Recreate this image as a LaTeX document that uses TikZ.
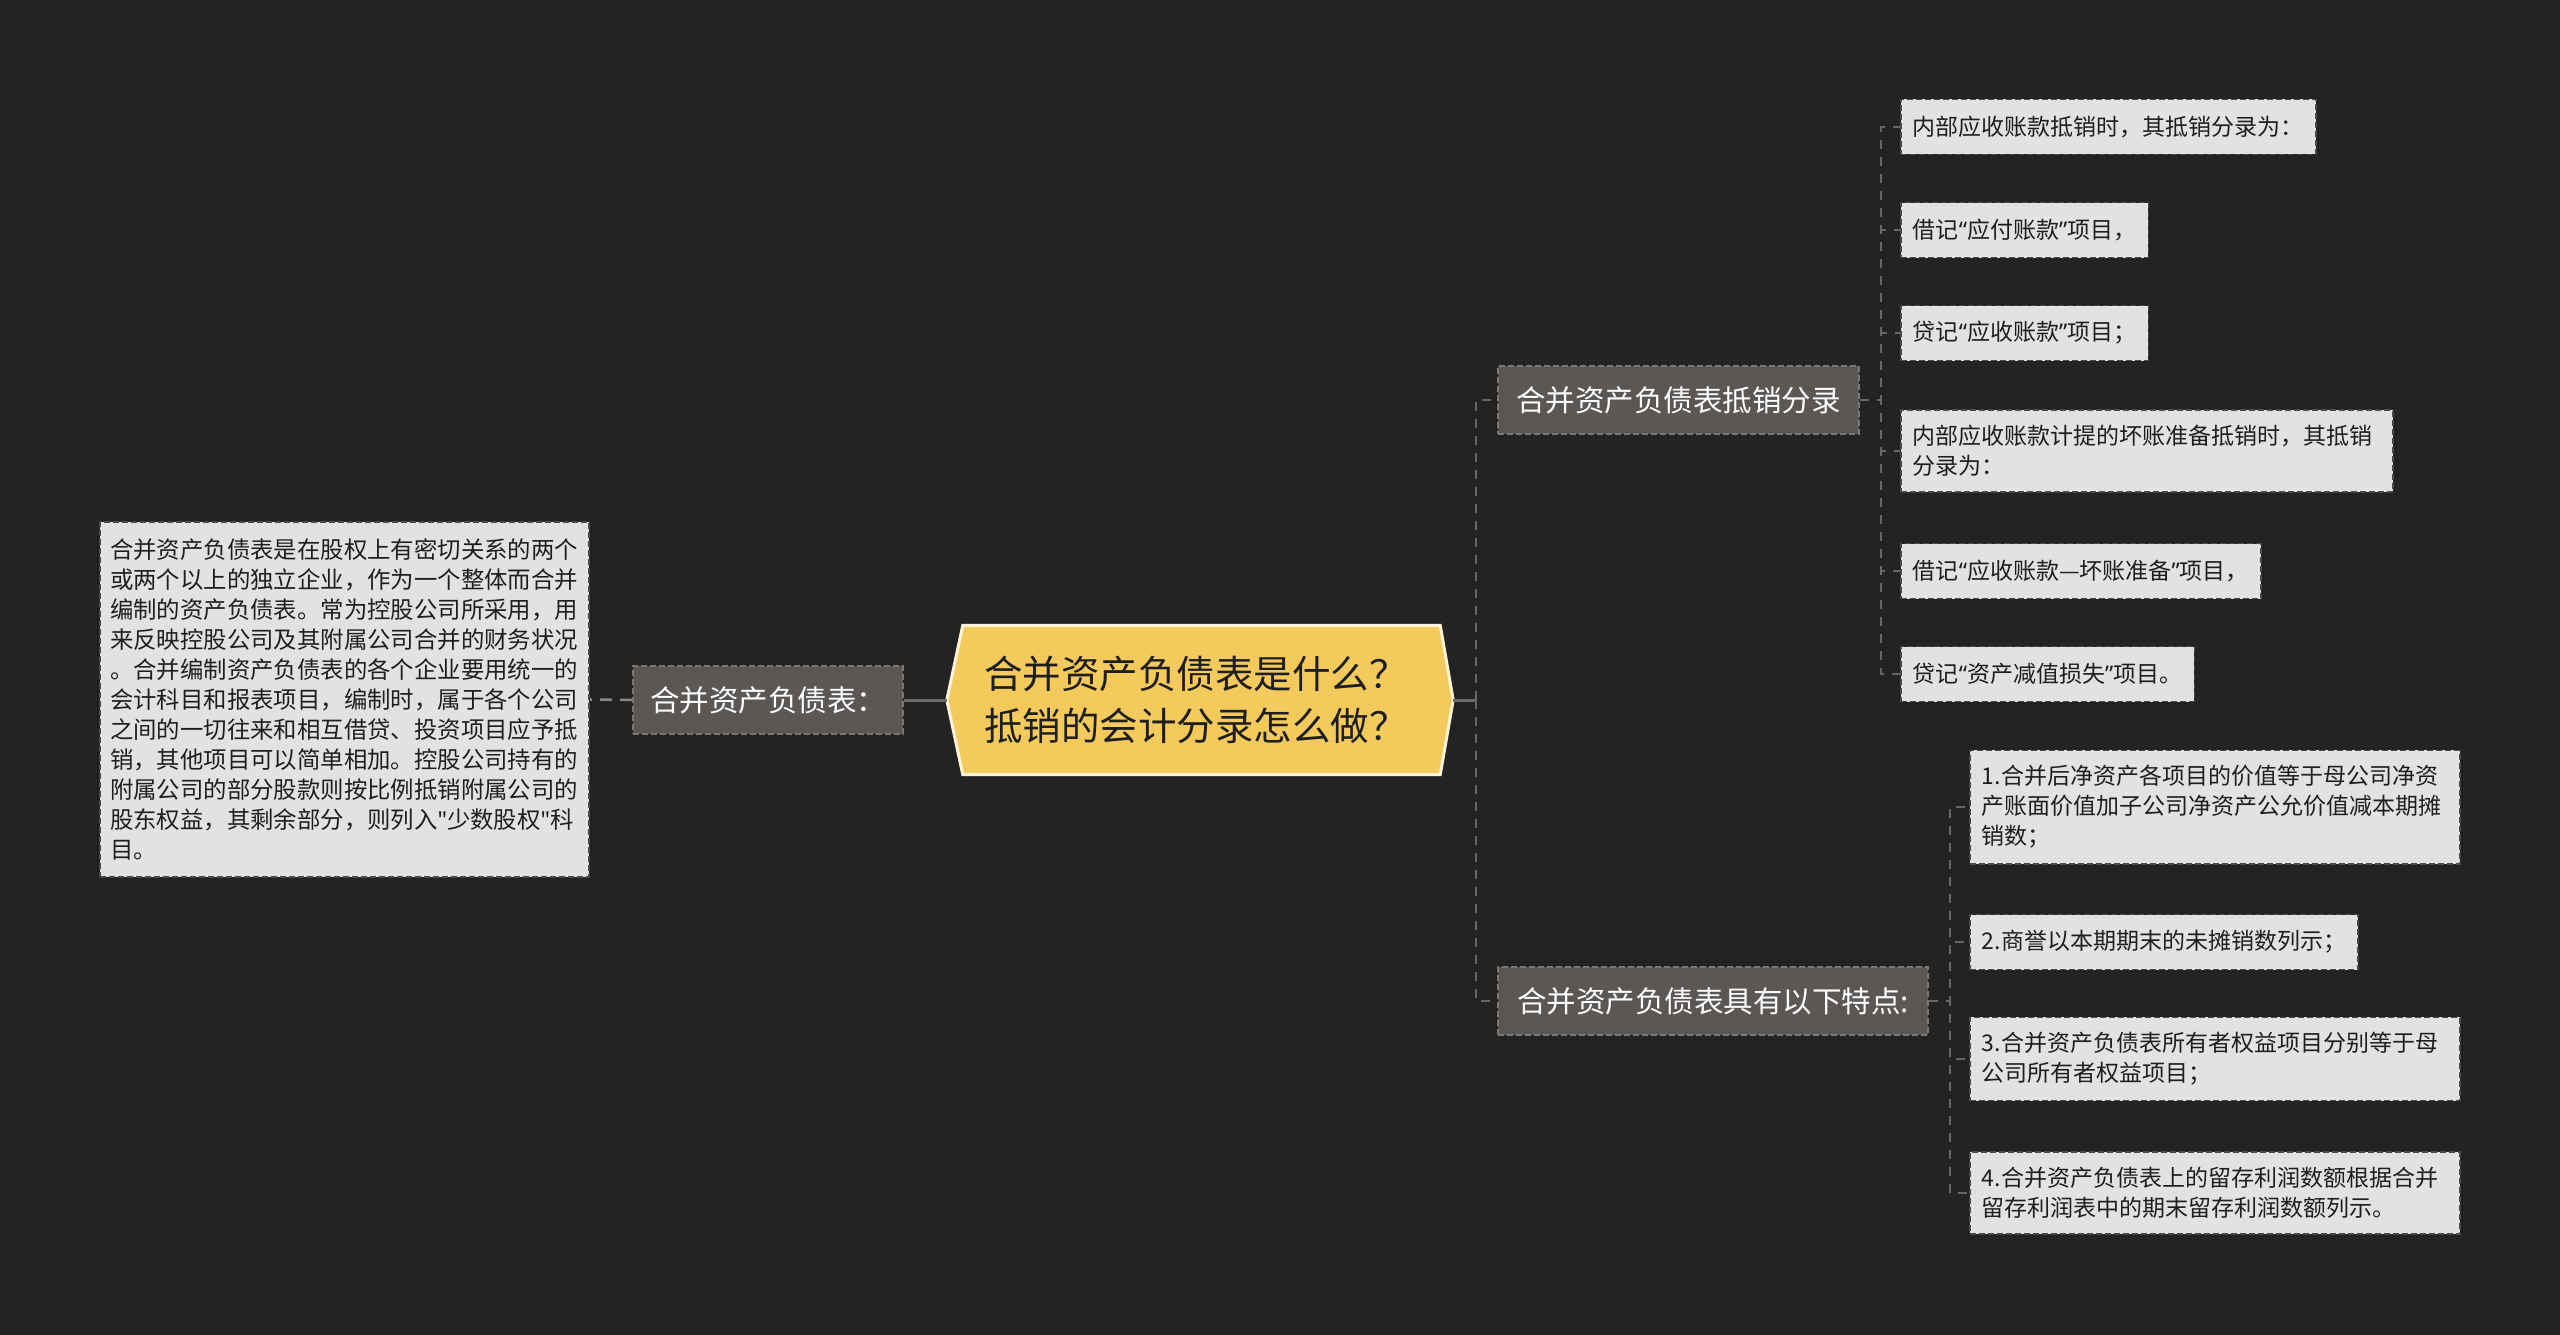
\documentclass[tikz,border=0pt]{standalone}
\usepackage{fontspec}
\setmainfont{Noto Sans CJK SC}
\newfontfamily\latinq{Noto Sans}
\newfontfamily\rawq{Noto Sans}[Ligatures=TeXOff]
\newcommand{\myoq}{{\latinq “}}
\newcommand{\mycq}{{\latinq ”}}
\newcommand{\mystq}{{\rawq\char"22}}
\definecolor{bg}{HTML}{232323}
\definecolor{leaffill}{HTML}{E2E2E2}
\definecolor{leafborder}{HTML}{4A4A4A}
\definecolor{leaftext}{HTML}{1E1E1E}
\definecolor{branchfill}{HTML}{5A5755}
\definecolor{branchborder}{HTML}{7A7774}
\definecolor{rootfill}{HTML}{F5CA5C}
\definecolor{rootborder}{HTML}{FFF4D8}
\definecolor{linkc}{HTML}{676767}
\definecolor{linkl}{HTML}{8A8A8A}
\tikzset{
  leafbox/.style={draw=leafborder, line width=1.8pt, dash pattern=on 6pt off 3pt,
    fill=leaffill, text=leaftext, font=\fontsize{23}{30}\selectfont,
    inner xsep=12pt, inner ysep=15pt, minimum height=55pt, align=left, anchor=west},
  branchbox/.style={draw=branchborder, line width=1.8pt, dash pattern=on 6pt off 3pt,
    fill=branchfill, text=white, font=\fontsize{29.5}{36}\selectfont,
    inner xsep=17pt, inner ysep=0pt, minimum height=68pt, anchor=west},
  link/.style={draw=linkc, line width=2.5pt, dash pattern=on 9pt off 8pt},
  solidlink/.style={draw=linkc, line width=3pt},
  lightlink/.style={draw=linkl, line width=2.5pt, dash pattern=on 12pt off 8pt},
}
\begin{document}
\begin{tikzpicture}[x=1pt,y=-1pt]
\fill[bg] (0,0) rectangle (2560,1335);
\useasboundingbox (0,0) rectangle (2560,1335);

% root
\node[minimum width=506pt, minimum height=149pt, inner sep=0pt] (root) at (1200,700) {};
\filldraw[fill=rootfill, draw=rootborder, line width=3pt, line join=miter]
  (root.west) -- ([xshift=16pt]root.north west) -- ([xshift=-13pt]root.north east)
  -- (root.east) -- ([xshift=-13pt]root.south east) -- ([xshift=16pt]root.south west) -- cycle;
\node[text=leaftext, font=\fontsize{38.5}{52}\selectfont, align=left] (roottext) at ([xshift=-4pt]root.center)
  {合并资产负债表是什么？\\抵销的会计分录怎么做？};

% left side
\node[branchbox, anchor=center, minimum width=270pt] (ml) at (768,700) {合并资产负债表：};
\node[leafbox, anchor=center, text width=469pt, inner xsep=10pt, minimum height=355pt,
  font=\fontsize{23.4}{30}\selectfont] (ll) at (344.5,699.5)
{合并资产负债表是在股权上有密切关系的两个\\
或两个以上的独立企业，作为一个整体而合并\\
编制的资产负债表。常为控股公司所采用，用\\
来反映控股公司及其附属公司合并的财务状况\\
。合并编制资产负债表的各个企业要用统一的\\
会计科目和报表项目，编制时，属于各个公司\\
之间的一切往来和相互借贷、投资项目应予抵\\
销，其他项目可以简单相加。控股公司持有的\\
附属公司的部分股款则按比例抵销附属公司的\\
股东权益，其剩余部分，则列入\mystq 少数股权\mystq 科\\
目。};

% right branches
\node[branchbox, minimum width=361pt] (b1) at (1497,400) {合并资产负债表抵销分录};
\node[branchbox, minimum width=430pt] (b2) at (1497,1001) {合并资产负债表具有以下特点:};

% branch 1 leaves
\node[leafbox] (a1) at (1900,127) {内部应收账款抵销时，其抵销分录为：};
\node[leafbox] (a2) at (1900,230) {借记\myoq 应付账款\mycq 项目，};
\node[leafbox] (a3) at (1900,333) {贷记\myoq 应收账款\mycq 项目；};
\node[leafbox, text width=468pt] (a4) at (1900,451) {内部应收账款计提的坏账准备抵销时，其抵销\\分录为：};
\node[leafbox] (a5) at (1900,571) {借记\myoq 应收账款—坏账准备\mycq 项目，};
\node[leafbox] (a6) at (1900,674) {贷记\myoq 资产减值损失\mycq 项目。};

% branch 2 leaves
\node[leafbox, text width=466pt] (c1) at (1969,807) {1.合并后净资产各项目的价值等于母公司净资\\产账面价值加子公司净资产公允价值减本期摊\\销数；};
\node[leafbox] (c2) at (1969,942) {2.商誉以本期期末的未摊销数列示；};
\node[leafbox, text width=466pt] (c3) at (1969,1059) {3.合并资产负债表所有者权益项目分别等于母\\公司所有者权益项目；};
\node[leafbox, text width=466pt] (c4) at (1969,1193) {4.合并资产负债表上的留存利润数额根据合并\\留存利润表中的期末留存利润数额列示。};

% connectors
\draw[solidlink] (root.west) -- (ml.east);
\draw[lightlink] (ml.west) -- (ll.east);
\draw[solidlink] (root.east) -- ++(23,0);
\draw[link] (root.east) ++(23,0) |- (b1.west);
\draw[link] (root.east) ++(23,0) |- (b2.west);
\foreach \n in {a1,a2,a3,a4,a5,a6} \draw[link] (b1.east) -- ++(21,0) |- (\n.west);
\foreach \n in {c1,c2,c3,c4} \draw[link] (b2.east) -- ++(21,0) |- (\n.west);
\end{tikzpicture}
\end{document}
